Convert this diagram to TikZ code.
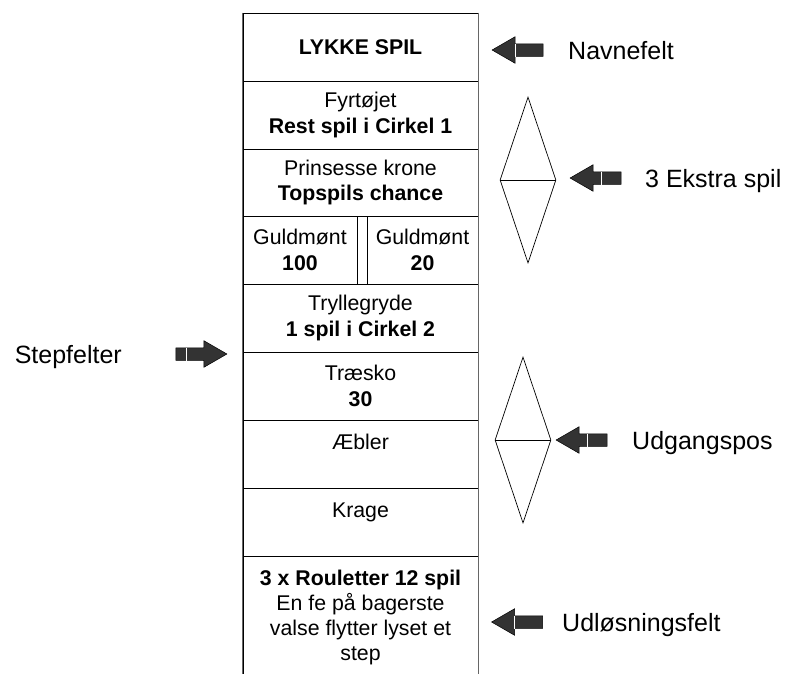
\documentclass[tikz,border=0pt]{standalone}
\usepackage{fontspec}
\setmainfont{Liberation Sans}
\usetikzlibrary{shapes.geometric,shapes.arrows}

\begin{document}
\begin{tikzpicture}[x=1pt,y=-1pt,
    felt/.style={draw, line width=.8pt, minimum width=235pt, minimum height=68pt,
      inner sep=0pt, align=center, font=\fontsize{21.3}{25.5}\selectfont},
    halv/.style={felt, minimum width=#1},
    ruder/.style={diamond, draw, line width=.7pt, minimum width=56pt,
      minimum height=166pt, inner sep=0pt},
    pil/.style={single arrow, draw=black, line width=.5pt, fill=black!80,
      minimum height=51pt, inner sep=6pt, single arrow head extend=7pt,
      single arrow tip angle=60},
    hvid/.style={white, line width=1pt},
    ramme/.style={black!60, line width=1.3pt},
    tekst/.style={font=\fontsize{25}{29}\selectfont, inner sep=0pt}]
  \useasboundingbox (0,0) rectangle (792,673);

  % kolonnen med felter
  \node[felt] (navn) at (360.5,47) {\textbf{LYKKE SPIL}};
  \node[felt] (fyr) at (360.5,115) {\raisebox{-3pt}{Fyrtøjet}\\\raisebox{-3pt}{\textbf{Rest spil i Cirkel 1}}};
  \node[felt, minimum height=67pt] (prins) at (360.5,182.5) {Prinsesse krone\\\textbf{Topspils chance}};
  \node[felt] (guld) at (360.5,250) {};
  \node[halv=114pt] (guldA) at (300,250) {Guldmønt\\\textbf{100}};
  \node[halv=111pt] (guldB) at (422.5,250) {Guldmønt\\\textbf{20}};
  \node[felt] (tryl) at (360.5,318) {Tryllegryde\\\textbf{1 spil i Cirkel 2}};
  \node[felt] (trae) at (360.5,386) {Træsko\\\textbf{30}};
  \node[felt] (aebl) at (360.5,454) {\raisebox{-2pt}{Æbler}\\\mbox{}};
  \node[felt] (krag) at (360.5,522) {\raisebox{-1pt}{Krage}\\\mbox{}};
  \node[felt, minimum height=134pt] (udl) at (360.5,623) {};
  \node[align=center, inner sep=0pt, font=\fontsize{21.3}{25}\selectfont] (udltekst) at (360.5,617)
    {\textbf{3 x Rouletter 12 spil}\\En fe på bagerste\\valse flytter lyset et\\step};
  \draw[ramme] (navn.north west) -- (udl.south west);
  \draw[ramme] (navn.north east) -- (udl.south east);

  % ruder
  \node[ruder] (ekstra) at (528,180) {};
  \draw[line width=.7pt] (ekstra.west) -- (ekstra.east);
  \node[ruder] (udgang) at (523,440) {};
  \draw[line width=.7pt] (udgang.west) -- (udgang.east);

  % pile og tekster
  \node[pil, shape border rotate=180] (pilNavn) at (523,50) {};
  \draw[hvid] ([xshift=-28pt]pilNavn.before tail) -- ([xshift=-28pt]pilNavn.after tail);
  \node[tekst, anchor=base west] (tNavn) at (568,59) {Navnefelt};

  \node[pil, shape border rotate=180] (pilEkstra) at (601,178) {};
  \draw[hvid] ([xshift=-20pt]pilEkstra.before tail) -- ([xshift=-20pt]pilEkstra.after tail);
  \node[tekst, anchor=base west] (tEkstra) at (645,187) {3 Ekstra spil};

  \node[pil, shape border rotate=180] (pilUdgang) at (587,440) {};
  \draw[hvid] ([xshift=-20pt]pilUdgang.before tail) -- ([xshift=-20pt]pilUdgang.after tail);
  \node[tekst, anchor=base west] (tUdgang) at (632,449) {Udgangspos};

  \node[pil, shape border rotate=180] (pilUdl) at (522.5,622) {};
  \draw[hvid] ([xshift=-28pt]pilUdl.before tail) -- ([xshift=-28pt]pilUdl.after tail);
  \node[tekst, anchor=base west] (tUdl) at (562,631) {Udløsningsfelt};

  \node[pil] (pilStep) at (196,354) {};
  \draw[hvid] ([xshift=11pt]pilStep.before tail) -- ([xshift=11pt]pilStep.after tail);
  \node[tekst, anchor=base east] (tStep) at (122,363) {Stepfelter};
\end{tikzpicture}
\end{document}
